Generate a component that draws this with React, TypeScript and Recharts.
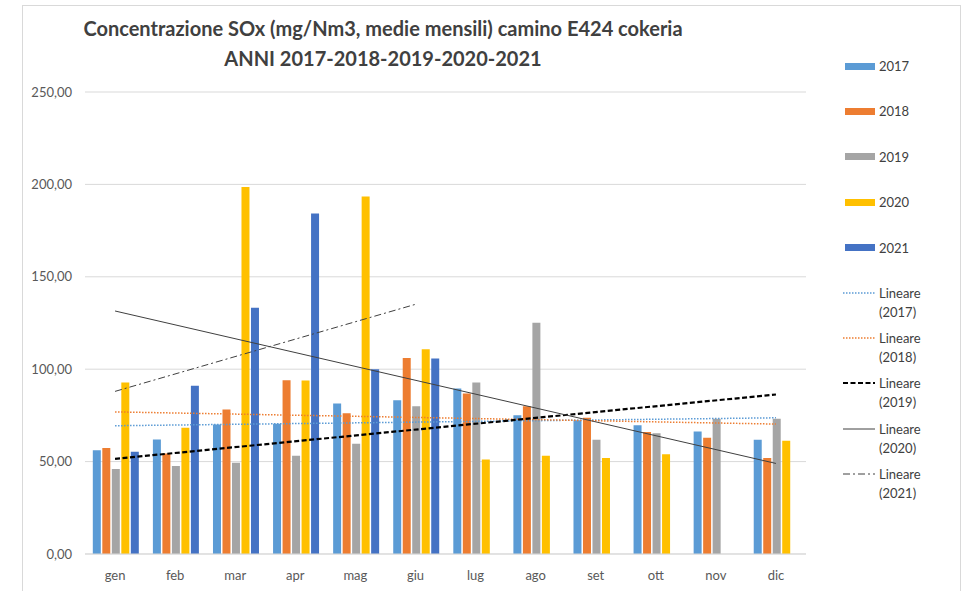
import React from "react";
import {
  ComposedChart,
  Bar,
  Line,
  XAxis,
  YAxis,
  CartesianGrid,
} from "recharts";

const months = ["gen", "feb", "mar", "apr", "mag", "giu", "lug", "ago", "set", "ott", "nov", "dic"];

const s2017 = [56.2, 62.0, 70.1, 70.5, 81.4, 83.2, 89.5, 75.1, 72.4, 69.7, 66.3, 61.8];
const s2018 = [57.3, 54.4, 78.2, 94.0, 76.2, 106.1, 86.8, 80.0, 73.7, 66.0, 62.9, 51.9];
const s2019 = [46.0, 47.6, 49.4, 53.2, 59.6, 80.0, 92.8, 125.2, 61.8, 65.4, 73.2, 73.2];
const s2020 = [92.8, 68.3, 198.6, 93.9, 193.5, 110.8, 51.2, 53.2, 51.9, 54.0, null, 61.3];
const s2021 = [55.3, 91.0, 133.2, 184.2, 100.0, 105.8, null, null, null, null, null, null];

// trend line end points (first month, last month)
const trend2017 = [69.4, 73.7];
const trend2018 = [76.9, 70.3];
const trend2019 = [51.5, 86.3];
const trend2020 = [131.5, 49.0];
const trend2021 = [88.0, 135.1];
const trend2021End = 5; // giu

const yTicks = [0, 50, 100, 150, 200, 250];

const colors = {
  y2017: "#5B9BD5",
  y2018: "#ED7D31",
  y2019: "#A5A5A5",
  y2020: "#FFC000",
  y2021: "#4472C4",
};

const last = months.length - 1;
const data = months.map((m, i) => ({
  month: m,
  y2017: s2017[i],
  y2018: s2018[i],
  y2019: s2019[i],
  y2020: s2020[i],
  y2021: s2021[i],
  t2017: i === 0 ? trend2017[0] : i === last ? trend2017[1] : null,
  t2018: i === 0 ? trend2018[0] : i === last ? trend2018[1] : null,
  t2019: i === 0 ? trend2019[0] : i === last ? trend2019[1] : null,
  t2020: i === 0 ? trend2020[0] : i === last ? trend2020[1] : null,
  t2021: i === 0 ? trend2021[0] : i === trend2021End ? trend2021[1] : null,
}));

const font = "Lato, 'Open Sans', sans-serif";
const textColor = "#595959";

const barItems = [
  { label: "2017", color: colors.y2017 },
  { label: "2018", color: colors.y2018 },
  { label: "2019", color: colors.y2019 },
  { label: "2020", color: colors.y2020 },
  { label: "2021", color: colors.y2021 },
];

const lineItems = [
  { label: "2017", color: "#5B9BD5", dash: "1.5 1.5", width: 1.5 },
  { label: "2018", color: "#ED7D31", dash: "1.5 1.5", width: 1.5 },
  { label: "2019", color: "#000000", dash: "5 2.5", width: 2.2 },
  { label: "2020", color: "#404040", dash: "", width: 1 },
  { label: "2021", color: "#404040", dash: "7 3 2 3", width: 1 },
];

function ChartLegend() {
  return (
    <div style={{ position: "absolute", left: 0, top: 0, fontFamily: font, fontSize: 13, color: "#404040" }}>
      {barItems.map((it, i) => (
        <div key={it.label} style={{ position: "absolute", left: 845, top: 66 + i * 45.4 - 9, height: 18, display: "flex", alignItems: "center", whiteSpace: "nowrap" }}>
          <span style={{ width: 30, height: 7, background: it.color, display: "inline-block", marginRight: 4 }} />
          {it.label}
        </div>
      ))}
      {lineItems.map((it, i) => (
        <div key={"l" + it.label} style={{ position: "absolute", left: 843, top: 293 + i * 45.2 - 9, whiteSpace: "nowrap" }}>
          <svg width={33} height={18} style={{ position: "absolute", left: 0, top: 0 }}>
            <line x1={0} y1={9} x2={32} y2={9} stroke={it.color} strokeWidth={it.width} strokeDasharray={it.dash} />
          </svg>
          <div style={{ position: "absolute", left: 36, top: 0, lineHeight: "19px" }}>
            Lineare
            <br />({it.label})
          </div>
        </div>
      ))}
    </div>
  );
}

export default function App() {
  return (
    <div style={{ position: "absolute", left: 0, top: 0, width: 979, height: 591, background: "#fff", overflow: "hidden" }}>
      <div style={{ position: "absolute", left: 22, top: 5, width: 937, height: 620, border: "1px solid #D9D9D9" }} />
      <div style={{ position: "absolute", left: 0, top: 13, width: 766, textAlign: "center", fontFamily: font, fontWeight: 700, fontSize: 20, color: "#404040", lineHeight: "30px" }}>
        Concentrazione SOx (mg/Nm3, medie mensili) camino E424 cokeria
        <br />
        ANNI 2017-2018-2019-2020-2021
      </div>
      <div style={{ position: "absolute", left: 0, top: 0 }}>
        <ComposedChart
          width={979}
          height={591}
          data={data}
          margin={{ top: 92, right: 173, left: 0, bottom: 5 }}
          barCategoryGap="13%"
          barGap={1.5}
        >
          <CartesianGrid vertical={false} stroke="#D9D9D9" strokeWidth={1} />
          <XAxis
            dataKey="month"
            height={32}
            axisLine={{ stroke: "#D9D9D9" }}
            tickLine={false}
            tickSize={0}
            tickMargin={17}
            tick={{ fontSize: 13, fill: textColor, fontFamily: font }}
            interval={0}
          />
          <YAxis
            width={85}
            domain={[0, 250]}
            ticks={yTicks}
            axisLine={false}
            tickLine={false}
            tickSize={0}
            tickMargin={13}
            tick={{ fontSize: 13, fill: textColor, fontFamily: font }}
            tickFormatter={(v: number) => v.toFixed(2).replace(".", ",")}
          />
          <Bar dataKey="y2017" fill={colors.y2017} isAnimationActive={false} />
          <Bar dataKey="y2018" fill={colors.y2018} isAnimationActive={false} />
          <Bar dataKey="y2019" fill={colors.y2019} isAnimationActive={false} />
          <Bar dataKey="y2020" fill={colors.y2020} isAnimationActive={false} />
          <Bar dataKey="y2021" fill={colors.y2021} isAnimationActive={false} />
          <Line dataKey="t2017" stroke="#5B9BD5" strokeWidth={1.5} strokeDasharray="1.5 1.5" dot={false} connectNulls isAnimationActive={false} />
          <Line dataKey="t2018" stroke="#ED7D31" strokeWidth={1.5} strokeDasharray="1.5 1.5" dot={false} connectNulls isAnimationActive={false} />
          <Line dataKey="t2019" stroke="#000000" strokeWidth={2.2} strokeDasharray="5 2.5" dot={false} connectNulls isAnimationActive={false} />
          <Line dataKey="t2020" stroke="#404040" strokeWidth={1} dot={false} connectNulls isAnimationActive={false} />
          <Line dataKey="t2021" stroke="#404040" strokeWidth={1} strokeDasharray="7 3 2 3" dot={false} connectNulls isAnimationActive={false} />
        </ComposedChart>
      </div>
      <ChartLegend />
    </div>
  );
}
